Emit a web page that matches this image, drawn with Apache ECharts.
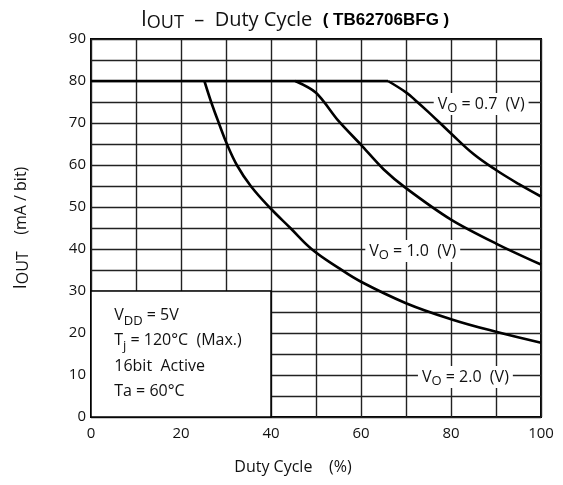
<!DOCTYPE html>
<html>
<head>
<meta charset="utf-8">
<title>IOUT - Duty Cycle</title>
<script src="https://cdn.jsdelivr.net/npm/echarts@6/dist/echarts.min.js"></script>
<style>
  body { margin: 0; background: #fff; }
  #main { width: 563px; height: 485px; }
</style>
</head>
<body>
<div id="main"></div>
<script>
// duty cycle (%) / output current (mA/bit)
// all three curves share the 80 mA ceiling up to their knee
var dutyLimit = [0, 66];
var ioutLimit = [80, 80];

var dutyV07 = [66, 70, 72, 75, 80, 85, 90, 95, 100];
var ioutV07 = [80, 77.3, 75.5, 72.6, 67.5, 62.6, 58.8, 55.5, 52.5];

var dutyV10 = [45.4, 50, 55, 60, 65, 70, 80, 90, 100];
var ioutV10 = [80, 77.2, 70.5, 64.8, 59, 54.5, 47, 41.3, 36.3];

var dutyV20 = [25.2, 26.7, 28.4, 30.2, 32.4, 35.5, 39.6, 44.3, 49, 55, 60, 70, 80, 90, 100];
var ioutV20 = [80, 75, 70, 65, 60, 55, 50, 45, 40, 35.5, 32.2, 27.1, 23.3, 20.3, 17.7];

var xTicks = [0, 20, 40, 60, 80, 100];
var yTicks = [0, 10, 20, 30, 40, 50, 60, 70, 80, 90];

// label anchors (duty, iout) and the condition box
var labelV07 = [86.7, 74.5];
var labelV10 = [71.5, 39.5];
var labelV20 = [83.2, 9.5];
var boxFrom = [0, 0];
var boxTo = [40, 30];

function pairs(xs, ys) {
    var out = [];
    for (var i = 0; i < xs.length; i++) out.push([xs[i], ys[i]]);
    return out;
}

var FONT = '"Open Sans", "Noto Sans", sans-serif';

var voRich = {
    v: { fontFamily: FONT, fontSize: 16, color: '#111', lineHeight: 22, verticalAlign: 'middle' },
    s: { fontFamily: FONT, fontSize: 13, color: '#111', lineHeight: 22, verticalAlign: 'bottom' }
};

function voLabel(coord, txt) {
    return {
        symbol: 'rect',
        symbolSize: 0,
        silent: true,
        data: [{ coord: coord }],
        label: {
            show: true,
            position: 'inside',
            backgroundColor: '#fff',
            padding: [0, 4, 0, 4],
            formatter: '{v|V}{s|O}{v| = ' + txt + '  (V)}',
            rich: voRich
        }
    };
}

var lineStyle = { color: '#000', width: 2.6 };

var chart = echarts.init(document.getElementById('main'));
var option = {
    animation: false,
    backgroundColor: '#fff',
    title: {
        left: 136,
        top: 3,
        text: '{i|I}{o|OUT}{t|  –  Duty Cycle  }{b|( TB62706BFG )}',
        textStyle: {
            fontWeight: 'normal',
            rich: {
                i: { fontFamily: FONT, fontSize: 21, fontWeight: 'normal', color: '#111', verticalAlign: 'middle' },
                o: { fontFamily: FONT, fontSize: 18, fontWeight: 'normal', color: '#111', verticalAlign: 'bottom', lineHeight: 24 },
                t: { fontFamily: FONT, fontSize: 20, fontWeight: 'normal', color: '#111', verticalAlign: 'middle' },
                b: { fontFamily: '"Liberation Sans", Arial, sans-serif', fontSize: 17, fontWeight: 'bold', color: '#000' }
            }
        }
    },
    grid: {
        left: 91, right: 22, top: 39, bottom: 68,
        show: true,
        borderColor: '#000',
        borderWidth: 2
    },
    xAxis: {
        type: 'value',
        min: 0, max: 100, interval: 10,
        name: 'Duty Cycle    (%)',
        nameLocation: 'middle',
        nameGap: 42,
        nameTextStyle: { fontFamily: FONT, fontSize: 16, color: '#111', padding: [0, 46, 0, 0] },
        axisLine: { show: false },
        axisTick: { show: false },
        axisLabel: {
            margin: 9,
            fontFamily: FONT, fontSize: 15, color: '#111',
            formatter: function (v) { return xTicks.indexOf(v) >= 0 ? String(v) : ''; }
        },
        splitLine: { show: true, lineStyle: { color: '#222', width: 1.4 } }
    },
    yAxis: {
        type: 'value',
        min: 0, max: 90, interval: 5,
        name: '{i|I}{o|OUT}{t|    (mA / bit)}',
        nameLocation: 'middle',
        nameGap: 60,
        nameTextStyle: {
            rich: {
                i: { fontFamily: FONT, fontSize: 18, color: '#111' },
                o: { fontFamily: FONT, fontSize: 16, color: '#111', verticalAlign: 'bottom', lineHeight: 20 },
                t: { fontFamily: FONT, fontSize: 16, color: '#111' }
            }
        },
        axisLine: { show: false },
        axisTick: { show: false },
        axisLabel: {
            margin: 5,
            fontFamily: FONT, fontSize: 15, color: '#111',
            formatter: function (v) { return yTicks.indexOf(v) >= 0 ? String(v) : ''; }
        },
        splitLine: { show: true, lineStyle: { color: '#222', width: 1.4 } }
    },
    series: [
        {
            name: 'limit',
            type: 'line',
            data: pairs(dutyLimit, ioutLimit),
            showSymbol: false,
            lineStyle: lineStyle
        },
        {
            name: 'VO=0.7',
            type: 'line',
            data: pairs(dutyV07, ioutV07),
            showSymbol: false,
            smooth: 0.4,
            lineStyle: lineStyle,
            markPoint: voLabel(labelV07, '0.7')
        },
        {
            name: 'VO=1.0',
            type: 'line',
            data: pairs(dutyV10, ioutV10),
            showSymbol: false,
            smooth: 0.3,
            lineStyle: lineStyle,
            markPoint: voLabel(labelV10, '1.0')
        },
        {
            name: 'VO=2.0',
            type: 'line',
            data: pairs(dutyV20, ioutV20),
            showSymbol: false,
            smooth: 0.4,
            lineStyle: lineStyle,
            markPoint: voLabel(labelV20, '2.0'),
            markArea: {
                silent: true,
                itemStyle: { color: '#fff', borderColor: '#000', borderWidth: 1.5 },
                label: {
                    show: true,
                    position: 'insideTopLeft',
                    distance: 0,
                    padding: [12, 0, 0, 24],
                    formatter: '{v|V}{s|DD}{v| = 5V}\n{v|T}{s|j}{v| = 120°C  (Max.)}\n{v|16bit  Active}\n{v|Ta = 60°C}',
                    rich: {
                        v: { fontFamily: FONT, fontSize: 16, color: '#111', lineHeight: 25.5, verticalAlign: 'middle' },
                        s: { fontFamily: FONT, fontSize: 13, color: '#111', lineHeight: 25.5, verticalAlign: 'bottom' }
                    }
                },
                data: [[{ coord: boxFrom }, { coord: boxTo }]]
            }
        }
    ]
};
chart.setOption(option);
</script>
</body>
</html>
